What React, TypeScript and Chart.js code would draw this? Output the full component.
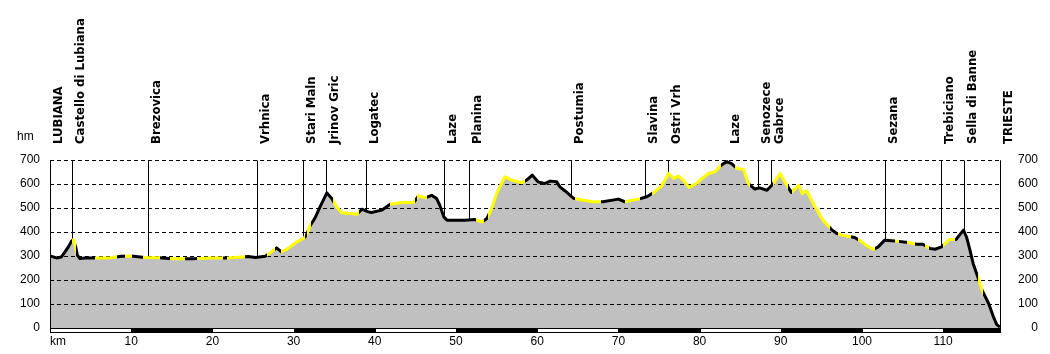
import React, { useEffect, useRef } from 'react';
import { Chart, registerables } from 'chart.js';

Chart.register(...registerables);

// Profile: distance (km) and elevation (m)
const distanceKm = [
  0, 0.8, 1.4, 1.85, 2.26, 2.67, 2.87, 3.16, 3.37, 3.69,
  4.3, 6.0, 7.5, 8.8, 10.0, 11.7, 13.5, 15.0, 17.5, 19.7,
  22.0, 24.4, 25.3, 26.5, 27.1, 27.9, 28.5, 29.3, 30.4, 31.2,
  31.6, 32.0, 32.6, 33.3, 34.1, 34.7, 35.3, 35.9, 37.1, 37.8,
  38.4, 39.2, 39.6, 40.85, 41.9, 43.3, 44.8, 45.4, 46.2, 47.0,
  47.6, 48.0, 48.5, 48.9, 51.1, 52.3, 53.2, 53.8, 54.4, 55.0,
  55.6, 56.0, 56.9, 58.1, 58.7, 59.4, 60.1, 60.9, 61.6, 62.4,
  62.8, 63.4, 64.5, 65.5, 66.9, 68.1, 70.0, 70.8, 72.5, 73.5,
  74.3, 75.3, 76.2, 76.8, 77.4, 78.0, 78.7, 79.6, 80.3, 81.1,
  81.9, 82.7, 83.3, 83.9, 84.6, 85.4, 86.0, 86.8, 87.4, 88.3,
  89.1, 89.9, 90.5, 91.3, 92.2, 92.65, 93.2, 94.2, 95.2, 96.3,
  96.9, 97.5, 98.2, 99.1, 99.96, 100.8, 101.4, 102.0, 102.8, 104.05,
  105.7, 106.7, 107.5, 108.4, 109.0, 109.8, 110.8, 111.6, 112.5, 112.9,
  113.3, 113.7, 114.3, 114.8, 115.6, 116.2, 116.6, 117.0,
];
const elevationM = [
  300, 292, 296, 317, 338, 363, 368, 338, 303, 289,
  292, 292, 293, 299, 300, 294, 293, 289, 289, 292,
  292, 298, 294, 299, 313, 334, 317, 331, 359, 373,
  387, 424, 456, 508, 563, 540, 505, 480, 477, 474,
  495, 484, 481, 491, 516, 523, 523, 551, 542, 553,
  540, 512, 463, 449, 449, 452, 442, 456, 498, 560,
  602, 630, 616, 605, 616, 637, 609, 602, 612, 609,
  588, 572, 540, 533, 526, 526, 537, 526, 537, 547,
  563, 591, 644, 623, 633, 616, 586, 602, 623, 644,
  651, 679, 693, 686, 665, 661, 602, 579, 584, 574,
  602, 644, 609, 565, 595, 560, 572, 505, 449, 408,
  394, 387, 382, 377, 359, 338, 327, 338, 366, 363,
  356, 349, 349, 331, 328, 338, 369, 369, 408, 377,
  324, 268, 209, 157, 102, 46, 14, 4,
];

// km ranges where the profile line is drawn yellow (rest black)
const yellowRanges = [
  [2.7, 3.2], [5.5, 8.2], [9.2, 10.1], [11.5, 13.5], [14.8, 16.6],
  [18.1, 21.35], [21.8, 24.0], [26.7, 27.7], [28.5, 31.4], [31.7, 32.1],
  [34.9, 38.0], [41.9, 44.95], [45.2, 46.4], [52.5, 53.5], [54.0, 58.5],
  [64.7, 67.9], [70.8, 72.7], [74.1, 82.7], [84.4, 86.2], [89.0, 90.9],
  [91.4, 96.1], [97.1, 98.7], [99.5, 101.6], [104.1, 104.5], [105.5, 106.5],
  [107.75, 108.2], [110.0, 111.4], [114.3, 114.9],
];

const placeNames = [
  'LUBIANA', 'Castello di Lubiana', 'Brezovica', 'Vrhnica', 'Stari Maln',
  'Jrinov Gric', 'Logatec', 'Laze', 'Planina', 'Postumia',
  'Slavina', 'Ostri Vrh', 'Laze', 'Senozece', 'Gabrce',
  'Sezana', 'Trebiciano', 'Sella di Banne', 'TRIESTE',
];
const placeKm = [
  0, 2.7, 12.1, 25.5, 31.2,
  34.0, 38.9, 48.5, 51.6, 64.2,
  73.3, 76.1, 83.4, 87.2, 88.8,
  102.8, 109.7, 112.6, 117,
];

const xTickValues = [0, 10, 20, 30, 40, 50, 60, 70, 80, 90, 100, 110];
const xTickLabels = ['km', '10', '20', '30', '40', '50', '60', '70', '80', '90', '100', '110'];
const yUnitLabel = 'hm';

const X_MAX = 117;
const Y_MAX = 700;
const TICK_FONT = '12px "Liberation Sans", Arial, sans-serif';
const PLACE_FONT = 'bold 13px "DejaVu Sans Condensed", "DejaVu Sans", sans-serif';

function elevationAt(km: number): number {
  for (let i = 1; i < distanceKm.length; i++) {
    if (km <= distanceKm[i]) {
      const x0 = distanceKm[i - 1], x1 = distanceKm[i];
      const t = x1 === x0 ? 0 : (km - x0) / (x1 - x0);
      return elevationM[i - 1] + t * (elevationM[i] - elevationM[i - 1]);
    }
  }
  return elevationM[elevationM.length - 1];
}

export default function App() {
  const ref = useRef<HTMLCanvasElement | null>(null);

  useEffect(() => {
    document.body.style.margin = '0';
    document.body.style.overflow = 'hidden';
    const canvas = ref.current;
    if (!canvas) return;

    const overlay = {
      id: 'overlay',
      beforeDatasetDraw(chart: any) {
        const { ctx, chartArea, scales } = chart;
        const xs = scales.x, ys = scales.y;
        ctx.save();
        // dashed horizontal grid lines
        ctx.strokeStyle = '#000';
        ctx.lineWidth = 1;
        ctx.setLineDash([4, 3]);
        for (let v = 100; v <= Y_MAX; v += 100) {
          const y = Math.round(ys.getPixelForValue(v)) + 0.5;
          ctx.beginPath();
          ctx.moveTo(chartArea.left, y);
          ctx.lineTo(chartArea.right, y);
          ctx.stroke();
        }
        ctx.setLineDash([]);
        // edge lines
        const yTop = Math.round(ys.getPixelForValue(Y_MAX)) + 0.5;
        const yBot = ys.getPixelForValue(0);
        [0, X_MAX].forEach((k) => {
          const x = Math.round(xs.getPixelForValue(k)) + 0.5;
          ctx.beginPath();
          ctx.moveTo(x, yTop);
          ctx.lineTo(x, yBot);
          ctx.stroke();
        });
        // place marker lines
        placeKm.forEach((k) => {
          const x = Math.round(xs.getPixelForValue(k)) + 0.5;
          const y = ys.getPixelForValue(elevationAt(k));
          ctx.beginPath();
          ctx.moveTo(x, yTop);
          ctx.lineTo(x, y);
          ctx.stroke();
        });
        ctx.restore();
      },
      afterDraw(chart: any) {
        const { ctx, chartArea, scales } = chart;
        const xs = scales.x;
        ctx.save();
        // km bar
        const by = Math.round(chartArea.bottom);
        for (let k = 0; k < X_MAX; k += 10) {
          const x0 = Math.round(xs.getPixelForValue(k));
          const x1 = Math.round(xs.getPixelForValue(Math.min(k + 10, X_MAX)));
          ctx.fillStyle = '#000';
          ctx.fillRect(x0, by, x1 - x0 + 1, 5);
          if ((k / 10) % 2 === 0) {
            ctx.fillStyle = '#fff';
            ctx.fillRect(x0 + 1, by + 1, x1 - x0 - 1, 3);
          }
        }
        // x tick labels
        ctx.fillStyle = '#000';
        ctx.font = TICK_FONT;
        ctx.textBaseline = 'middle';
        xTickValues.forEach((v, i) => {
          const x = xs.getPixelForValue(v);
          ctx.textAlign = i === 0 ? 'left' : 'center';
          ctx.fillText(xTickLabels[i], i === 0 ? x : x, 342);
        });
        // unit label
        ctx.textAlign = 'left';
        ctx.textBaseline = 'alphabetic';
        ctx.fillText(yUnitLabel, 17, 140);
        // place names
        ctx.font = PLACE_FONT;
        placeNames.forEach((name, i) => {
          const x = Math.round(xs.getPixelForValue(placeKm[i]));
          ctx.save();
          ctx.translate(x + 12, 144);
          ctx.rotate(-Math.PI / 2);
          ctx.textAlign = 'left';
          ctx.textBaseline = 'alphabetic';
          ctx.fillText(name, 0, 0);
          ctx.restore();
        });
        ctx.restore();
      },
    };

    const chart = new Chart(canvas, {
      type: 'line',
      data: {
        datasets: [
          {
            data: distanceKm.map((x, i) => ({ x, y: elevationM[i] })),
            borderWidth: 3,
            borderColor: (c: any) => {
              const ch = c.chart;
              const area = ch.chartArea;
              const xs = ch.scales && ch.scales.x;
              if (!area || !xs) return '#000';
              const w = area.right - area.left;
              const g = ch.ctx.createLinearGradient(area.left, 0, area.right, 0);
              const toT = (k: number) =>
                Math.min(1, Math.max(0, (xs.getPixelForValue(k) - area.left) / w));
              g.addColorStop(0, '#000');
              yellowRanges.forEach(([a, b]) => {
                const ta = toT(a), tb = toT(b);
                g.addColorStop(ta, '#000');
                g.addColorStop(ta, '#ffff00');
                g.addColorStop(tb, '#ffff00');
                g.addColorStop(tb, '#000');
              });
              g.addColorStop(1, '#000');
              return g;
            },
            backgroundColor: '#c0c0c0',
            fill: 'origin',
            pointRadius: 0,
            tension: 0,
            borderJoinStyle: 'round',
          } as any,
        ],
      },
      options: {
        responsive: false,
        animation: false,
        parsing: false as any,
        layout: { padding: { top: 160, bottom: 26, left: 0, right: 12 } },
        plugins: { legend: { display: false }, tooltip: { enabled: false } },
        scales: {
          x: { type: 'linear', min: 0, max: X_MAX, display: false },
          y: {
            position: 'left',
            min: 0,
            max: Y_MAX,
            ticks: {
              stepSize: 100,
              padding: 10,
              color: '#000',
              font: { family: '"Liberation Sans", Arial, sans-serif', size: 12 },
            },
            grid: { display: false, drawTicks: false },
            border: { display: false },
            afterFit: (s: any) => { s.width = 50; },
          },
          y2: {
            position: 'right',
            min: 0,
            max: Y_MAX,
            ticks: {
              stepSize: 100,
              padding: 0,
              crossAlign: 'far',
              color: '#000',
              font: { family: '"Liberation Sans", Arial, sans-serif', size: 12 },
            },
            grid: { display: false, drawTicks: false },
            border: { display: false },
            afterFit: (s: any) => { s.width = 38; },
          },
        } as any,
      },
      plugins: [overlay],
    });

    return () => chart.destroy();
  }, []);

  return <canvas ref={ref} width={1050} height={354} style={{ display: 'block' }} />;
}
